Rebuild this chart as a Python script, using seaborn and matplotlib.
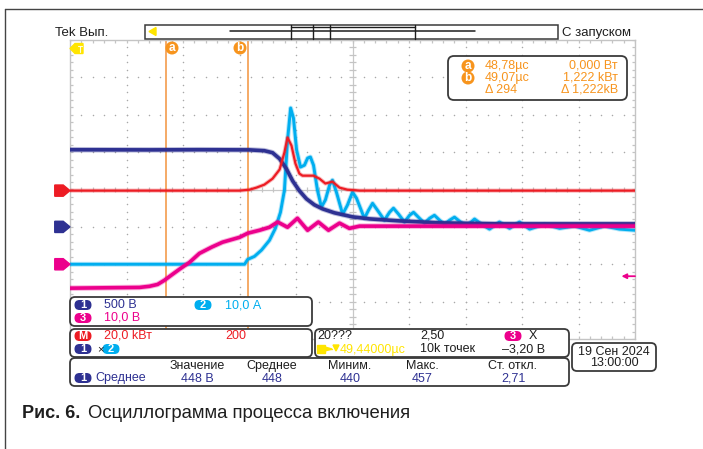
import numpy as np
import pandas as pd
import matplotlib
matplotlib.use("Agg")
import matplotlib.pyplot as plt
import seaborn as sns
from matplotlib.patches import FancyBboxPatch, Polygon, Circle, Rectangle
from matplotlib.lines import Line2D
from matplotlib.collections import LineCollection
from matplotlib.transforms import Affine2D

# ---------------------------------------------------------------- settings
T_CENTER = 49.44     # µs at screen centre
T_DIV = 0.2          # µs per division

CURSOR_A = 48.78     # µs
CURSOR_B = 49.07     # µs
TRIG_LEVEL = -3.20   # V on channel 3

# channel: volts/amps/kW per division and position (divisions)
ch1_scale, ch1_pos = 500.0, -1.0
ch2_scale, ch2_pos = 10.0, -2.0
ch3_scale, ch3_pos = 10.0, -2.0
math_scale, math_pos = 20.0, -0.03

# ---------------------------------------------------------------- traces
ch1_t = [48.44, 48.721, 48.898, 49.075, 49.128, 49.157, 49.182, 49.206, 49.228,
         49.252, 49.277, 49.305, 49.334, 49.376, 49.44, 49.500, 49.606, 49.748,
         49.960, 50.173, 50.44]
ch1_v = [1032, 1030, 1032, 1030, 1019, 992, 911, 777, 616,
         483, 375, 295, 241, 188, 134, 107, 80, 54,
         40, 40, 40]

ch2_t = [48.44, 49.058, 49.069, 49.093, 49.118, 49.146, 49.167, 49.185, 49.199,
         49.210, 49.221, 49.231, 49.242, 49.256, 49.270, 49.281, 49.291, 49.302,
         49.316, 49.330, 49.344, 49.359, 49.369, 49.383, 49.405, 49.422, 49.440,
         49.454, 49.482, 49.497, 49.511, 49.528, 49.553, 49.571, 49.585, 49.603,
         49.624, 49.642, 49.656, 49.677, 49.695, 49.713, 49.730, 49.748, 49.766,
         49.784, 49.801, 49.819, 49.844, 49.872, 49.897, 49.925, 49.960, 49.996,
         50.031, 50.067, 50.120, 50.173, 50.226, 50.279, 50.332, 50.385, 50.44]
ch2_a = [0.0, 0.0, 1.3, 2.1, 3.8, 6.4, 9.6, 13.9, 19.8,
         33.2, 41.8, 39.1, 30.6, 26.0, 26.5, 28.4, 28.7, 26.5,
         19.8, 15.3, 17.2, 21.2, 22.5, 19.3, 13.4, 15.8, 19.3,
         17.7, 12.3, 14.5, 16.3, 14.5, 11.8, 13.9, 15.0, 13.4,
         11.3, 13.1, 13.9, 12.3, 11.0, 12.3, 13.1, 11.8, 10.7,
         11.8, 12.6, 11.5, 10.2, 12.1, 10.7, 9.4, 11.3, 9.6,
         11.3, 9.4, 10.7, 9.6, 10.2, 9.1, 10.2, 9.4, 9.1]

ch3_t = [48.44, 48.686, 48.721, 48.750, 48.774, 48.799, 48.828, 48.863, 48.898,
         48.942, 48.980, 49.040, 49.069, 49.111, 49.146, 49.175, 49.210, 49.245,
         49.281, 49.319, 49.355, 49.394, 49.429, 49.465, 49.606, 49.960, 50.44]
ch3_v = [-6.4, -6.2, -5.9, -5.4, -4.3, -2.9, -1.3, 0.5, 2.9,
         4.6, 5.9, 7.2, 8.3, 9.1, 9.9, 11.3, 9.9, 12.3,
         9.1, 11.3, 9.1, 11.0, 9.6, 10.2, 10.2, 10.2, 10.2]

math_t = [48.44, 49.040, 49.075, 49.100, 49.128, 49.157, 49.182, 49.199, 49.210,
          49.224, 49.238, 49.252, 49.263, 49.302, 49.323, 49.344, 49.369, 49.394,
          49.422, 49.465, 50.44]
math_kw = [0.0, 0.0, 0.5, 1.6, 3.2, 6.4, 11.3, 20.4, 28.4,
           24.1, 14.5, 9.1, 8.0, 8.0, 6.4, 3.8, 4.8, 1.6,
           0.5, 0.0, 0.0]

# ---------------------------------------------------------------- readouts
cursor_rows = [("a", "48,78µс", "0,000 Вт"), ("b", "49,07µс", "1,222 kВт"),
               ("", "Δ 294", "Δ 1,222kВ")]
meas_headers = ["Значение", "Среднее", "Миним.", "Макс.", "Ст. откл."]
meas_values = ["448 В", "448", "440", "457", "2,71"]

NAVY = "#2e3192"
CYAN = "#00aeef"
MAGENTA = "#ec008c"
RED = "#ed1c24"
ORANGE = "#f7941d"
CURSOR_LINE = "#f5a45a"
YELLOW = "#ffe500"
INK = "#1e1e1e"
BOX_EDGE = "#3a3a3a"

W, H = 703, 449

sns.set_theme(style="white")
plt.rcParams["font.family"] = ["Liberation Sans", "DejaVu Sans"]

fig = plt.figure(figsize=(W / 100, H / 100), dpi=100)
fig.patch.set_facecolor("white")
PX = Affine2D().scale(1 / W, -1 / H).translate(0, 1) + fig.transFigure

ax = fig.add_axes([70 / W, 1 - 339 / H, 565 / W, 299 / H])
ax.set_xlim(-5, 5)
ax.set_ylim(-4, 4)
ax.set_xticks([])
ax.set_yticks([])
for sp in ax.spines.values():
    sp.set_color("#c4c4c4")
    sp.set_linewidth(1.0)

# ---- graticule
dot_c = "#a8a8a8"
for i in range(-4, 5):
    if i == 0:
        continue
    ys = np.arange(-4, 4.001, 0.2)
    ax.scatter(np.full(ys.size, i), ys, s=1.2, color=dot_c, lw=0, zorder=1)
for j in range(-3, 4):
    if j == 0:
        continue
    xs = np.arange(-5, 5.001, 0.2)
    ax.scatter(xs, np.full(xs.size, j), s=1.2, color=dot_c, lw=0, zorder=1)
ax.axhline(0, color="#c8c8c8", lw=0.9, zorder=1)
ax.axvline(0, color="#c8c8c8", lw=0.9, zorder=1)
segs = []
hx = 0.055
hy = 0.08
for x in np.arange(-5, 5.001, 0.2):
    segs.append([(x, -hy), (x, hy)])
    segs.append([(x, 4), (x, 4 - hy)])
    segs.append([(x, -4), (x, -4 + hy)])
for y in np.arange(-4, 4.001, 0.2):
    segs.append([(-hx, y), (hx, y)])
    segs.append([(-5, y), (-5 + hx, y)])
    segs.append([(5, y), (5 - hx, y)])
ax.add_collection(LineCollection(segs, colors="#c4c4c4", linewidths=0.9, zorder=1))

# ---- traces
def to_div(t, v, scale, pos):
    return pd.DataFrame({"x": (np.asarray(t) - T_CENTER) / T_DIV,
                         "y": np.asarray(v, dtype=float) / scale + pos})

traces = [
    (to_div(ch2_t, ch2_a, ch2_scale, ch2_pos), CYAN, 2.1, 3),
    (to_div(ch1_t, ch1_v, ch1_scale, ch1_pos), NAVY, 2.6, 4),
    (to_div(ch3_t, ch3_v, ch3_scale, ch3_pos), MAGENTA, 2.6, 5),
    (to_div(math_t, math_kw, math_scale, math_pos), RED, 1.6, 6),
]
for df, col, lw, z in traces:
    # soft halo under each trace gives the sampled-trace thickness
    sns.lineplot(data=df, x="x", y="y", ax=ax, color=col, lw=lw + 1.4, alpha=0.3,
                 sort=False, estimator=None, legend=False, zorder=z)
    sns.lineplot(data=df, x="x", y="y", ax=ax, color=col, lw=lw, sort=False,
                 estimator=None, legend=False, zorder=z)
ax.set_xlabel("")
ax.set_ylabel("")
ax.set_xlim(-5, 5)
ax.set_ylim(-4, 4)

# ---- cursors
for tc in (CURSOR_A, CURSOR_B):
    ax.axvline((tc - T_CENTER) / T_DIV, color=CURSOR_LINE, lw=1.3, zorder=2)

# ---- channel position markers on the left
for pos, col in ((math_pos, RED), (ch1_pos, NAVY), (ch3_pos, MAGENTA)):
    ax.add_patch(Polygon([(-5.27, pos + 0.15), (-5.12, pos + 0.15), (-5.0, pos),
                          (-5.12, pos - 0.15), (-5.27, pos - 0.15)],
                         closed=True, color=col, clip_on=False, zorder=7))

# ---- trigger level arrow on the right
trig_y = TRIG_LEVEL / ch3_scale + ch3_pos
ax.annotate("", xy=(4.76, trig_y), xytext=(5.0, trig_y),
            arrowprops=dict(arrowstyle="-|>", color=MAGENTA, lw=1.3,
                            mutation_scale=7, shrinkA=0, shrinkB=0),
            annotation_clip=False, zorder=7)

# ---------------------------------------------------------------- screen furniture
def fline(xs, ys, **kw):
    fig.add_artist(Line2D(xs, ys, transform=PX, **kw))

def fbox(x0, y0, x1, y1, r=5, ec=BOX_EDGE, lw=1.3, fc="white", z=10):
    fig.add_artist(FancyBboxPatch((x0, y0), x1 - x0, y1 - y0,
                                  boxstyle=f"round,pad=0,rounding_size={r}",
                                  transform=PX, fc=fc, ec=ec, lw=lw, zorder=z))

def ftext(x, y, s, **kw):
    kw.setdefault("fontsize", 9)
    kw.setdefault("va", "center")
    kw.setdefault("zorder", 12)
    fig.text(x, y, s, transform=PX, **kw)

def pill(cx, cy, s, col):
    fig.add_artist(FancyBboxPatch((cx - 8.5, cy - 5), 17, 10,
                                  boxstyle="round,pad=0,rounding_size=5",
                                  transform=PX, fc=col, ec="none", zorder=12))
    ftext(cx, cy + 0.3, s, color="white", ha="center", fontsize=8, zorder=13,
          fontweight="bold")

def badge(cx, cy, s):
    fig.add_artist(Circle((cx, cy), 6.5, transform=PX, fc=ORANGE, ec="none", zorder=12))
    ftext(cx, cy, s, color="white", ha="center", fontsize=8.5, zorder=13, fontweight="bold")

# outer frame
fline([4.5, 4.5], [8.5, H], color="#444444", lw=1.0)
fline([4.5, W], [8.5, 8.5], color="#444444", lw=1.0)

# header
ftext(55, 33, "Tek Вып.", color=INK, fontsize=9.5)
ftext(562, 33, "С запуском", color=INK, fontsize=9.5)
fig.add_artist(Rectangle((145, 25), 413, 13.5, transform=PX, fc="white",
                         ec=BOX_EDGE, lw=1.1, zorder=10))
fig.add_artist(Polygon([(149, 31.5), (156, 27.5), (156, 35.5)], closed=True,
                       transform=PX, color=YELLOW, zorder=11))
fline([230, 475], [31, 31], color=INK, lw=1.1, zorder=11)
fline([291, 415], [26.5, 26.5], color=INK, lw=1.0, zorder=11)
for xv in (291, 313, 330, 415):
    fline([xv, xv], [25, 38.5], color=INK, lw=1.0, zorder=11)

# trigger position marker
fig.add_artist(Polygon([(70, 48.5), (75, 43.5), (83, 43.5), (83, 53.5), (75, 53.5)],
                       closed=True, transform=PX, color=YELLOW, zorder=11))
fline([77.5, 81.5], [45.8, 45.8], color="#fffbe0", lw=0.8, zorder=12)
fline([79.5, 79.5], [45.8, 51.5], color="#fffbe0", lw=0.8, zorder=12)

# cursor badges
badge(172, 48, "a")
badge(240, 48, "b")

# cursor readout
fbox(448, 56, 627, 100, r=6)
for k, (lab, tval, pval) in enumerate(cursor_rows):
    y = 66 + 12 * k
    if lab:
        badge(468, y, lab)
    ftext(485, y, tval, color=ORANGE)
    ftext(618, y, pval, color=ORANGE, ha="right")

# channel readouts
fbox(70, 297, 312, 326)
pill(83, 305, "1", NAVY)
ftext(104, 305, "500 В", color=NAVY)
pill(203, 305, "2", CYAN)
ftext(225, 305, "10,0 А", color=CYAN)
pill(83, 318, "3", MAGENTA)
ftext(104, 318, "10,0 В", color=MAGENTA)

fbox(70, 329, 312, 357)
pill(83, 336, "M", RED)
ftext(104, 336, "20,0 kВт", color=RED)
ftext(225, 336, "200", color=RED)
pill(83, 349, "1", NAVY)
ftext(97, 349.5, "×", color=INK, fontsize=8)
pill(111, 349, "2", CYAN)

fbox(315, 329, 569, 357)
ftext(317, 336, "20???", color=INK)
ftext(432, 336, "2,50", color=INK, ha="center")
pill(513, 336, "3", MAGENTA)
ftext(533, 336, "X", color=INK, ha="center")
fig.add_artist(Rectangle((317, 345), 8, 8, transform=PX, color=YELLOW, zorder=12))
fig.add_artist(Polygon([(325, 347), (332, 349), (325, 351)], closed=True,
                       transform=PX, color=YELLOW, zorder=12))
fline([325, 332], [349, 349], color=YELLOW, lw=1.0, zorder=12)
fig.add_artist(Polygon([(333, 345), (339, 345), (336, 351)], closed=True,
                       transform=PX, color=YELLOW, zorder=12))
ftext(340, 349.5, "49,44000µс", color=YELLOW)
ftext(447, 349.5, "10k точек", color=INK, ha="center")
ftext(524, 349.5, "–3,20 В", color=INK, ha="center")

fbox(572, 343, 656, 371)
ftext(614, 352, "19 Сен 2024", color=INK, ha="center")
ftext(614, 363.5, "13:00:00", color=INK, ha="center")

fbox(70, 358, 569, 386)
header_x = [197, 272, 350, 422, 513]
for xh, hd, vl in zip(header_x, meas_headers, meas_values):
    ftext(xh, 366, hd, color=INK, ha="center")
    ftext(xh, 378.5, vl, color=NAVY, ha="center")
pill(83, 378, "1", NAVY)
ftext(95, 378.5, "Среднее", color=NAVY)

# caption
ftext(22, 413, "Рис. 6.", color=INK, fontsize=13, fontweight="bold")
ftext(88, 413, "Осциллограмма процесса включения", color=INK, fontsize=13.3)

fig.savefig("out.png", dpi=100, facecolor="white")
